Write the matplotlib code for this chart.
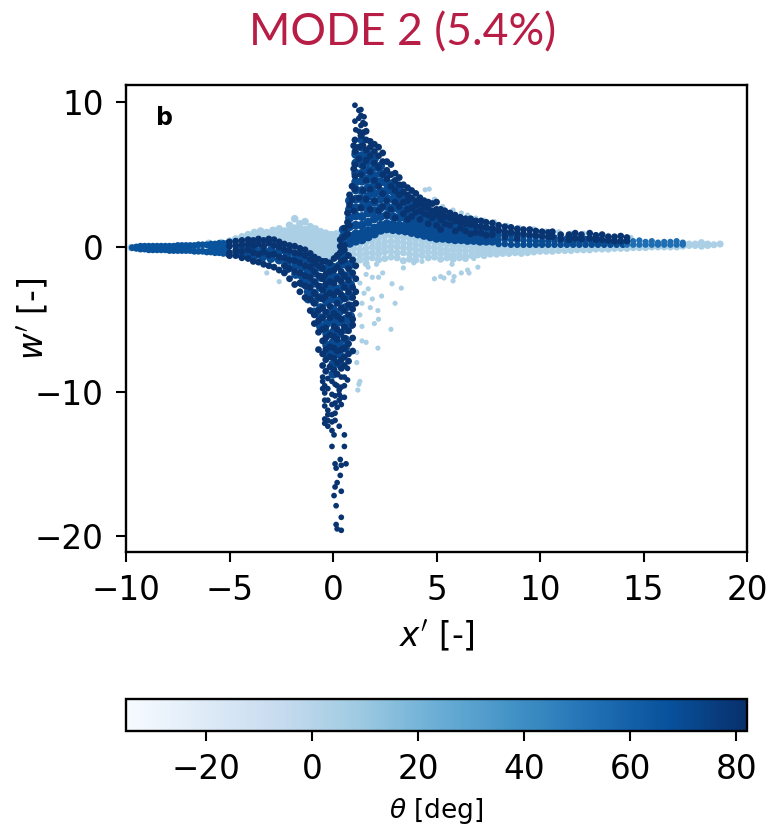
import matplotlib
matplotlib.use("Agg")
import matplotlib.pyplot as plt

# Each column: x' value, then the w' values read at that x'
light_left = [
 (-9.75,[-.05]),(-6.0,[.25]),(-5.4,[.3]),(-5.0,[.4,.25]),(-4.7,[.55,.3]),(-4.4,[.7,.4]),(-4.1,[.85,.5]),(-3.8,[1.0,.6]),
 (-3.5,[1.1,.75]),(-3.2,[1.0,.7]),(-2.9,[1.15,.8]),(-2.6,[1.25,.9,.6]),(-2.35,[1.1,.8,.5]),(-2.1,[1.5,1.1,.75,.4,.1]),
 (-1.85,[1.95,1.3,.95,.6,.25,-.05]),(-1.6,[1.6,1.25,.9,.55,.2,-.15]),(-1.35,[1.75,1.2,.85,.5,.15,-.2,-.5]),
 (-1.1,[1.4,1.05,.7,.35,0,-.35,-.65]),(-.85,[1.25,.9,.55,.2,-.15,-.5,-.85]),(-.6,[1.05,.7,.35,0,-.35,-.7,-1.0]),
 (-.35,[.95,.6,.25,-.1,-.45,-.8]),(-.1,[.85,.5,.15,-.2,-.55,-.85]),(.15,[.9,.45,.1,-.25,-.5]),(.4,[1.0,.5,.15]),
]
light_right = [
 (.7,[-.3,-.6,-1.2]),(1.0,[-.1,-.5,-.9,-1.4]),(1.3,[.2,-.2,-.55,-.9]),(1.6,[.3,-.1,-.45,-.8,-1.15]),(1.9,[.4,0,-.4,-.75]),
 (2.2,[.6,.2,-.15,-.5,-.9]),(2.5,[.75,.35,0,-.35,-.8]),(2.8,[.8,.4,.05,-.3,-.7]),(3.1,[.7,.35,0,-.4,-.75]),
 (3.4,[.65,.3,-.05,-.4,-.95]),(3.7,[.6,.25,-.1,-.5,-.85]),(4.0,[.5,.15,-.2,-.55,-.9]),(4.3,[.45,.1,-.25,-.6]),
 (4.6,[.35,0,-.35,-.75]),(4.9,[.3,-.05,-.4,-.7]),(5.2,[.2,-.15,-.45,-.85]),(5.5,[.15,-.2,-.5,-.75]),(5.8,[.1,-.2,-.55,-.85]),
 (6.1,[.05,-.25,-.55,-.75]),(6.4,[.05,-.25,-.6,-.8]),(6.7,[0,-.3,-.6]),(7.0,[0,-.3,-.55]),(7.3,[0,-.3,-.6]),(7.6,[0,-.25,-.5]),
 (7.9,[0,-.25,-.5]),(8.2,[0,-.25,-.45]),(8.5,[0,-.25,-.45]),(8.8,[0,-.2,-.4]),(9.1,[.0,-.2,-.45]),(9.4,[0,-.2,-.4]),
 (9.7,[.0,-.2,-.35]),(10.0,[0,-.3]),(10.3,[0,-.3]),(10.6,[0,-.3]),(10.9,[.05,-.25]),(11.2,[.05,-.25]),(11.5,[.05,-.25]),
 (11.8,[.05,-.2]),(12.1,[.05,-.2]),(12.4,[.05,-.2]),(12.7,[.05,-.15]),(13.0,[.05,-.15]),(13.3,[.05,-.15]),(13.6,[.05,-.1]),
 (13.9,[.05,-.1]),(14.2,[.1,-.1]),(14.5,[.1,-.05]),(14.8,[.1,-.05]),(15.1,[.1,-.05]),(15.4,[.1,0]),(15.7,[.1,0]),
 (16.0,[.1,0]),(16.3,[.1,0]),(16.6,[.1,.0]),(16.9,[.1,.05]),(17.2,[.1,.2]),(17.5,[.1,.2]),(17.8,[.05,.2,.3]),(18.1,[.2,.1]),(18.4,[.15]),(18.7,[.2]),
]
light_rim_x = [4.45,4.65,4.9,5.3,5.8,6.2,6.5,6.9,7.3,7.8,8.4,9.0,9.7,10.3,10.9,11.5,12.1,12.7,13.3,13.9,14.4]
light_rim_y = [3.95,4.0,3.3,2.8,2.55,2.35,2.2,2.0,1.85,1.75,1.5,1.35,1.25,1.1,1.05,.95,.95,.85,.8,.75,.65]
light_out_x = [1.4,1.8,2.17,.92,1.3,2.2,1.4,2,2.8,1.4,1.6,2.17,1.15,1.15,1.3,1.25,1.2,4.9,5.2,5.36,5.6,5.85,5.8,6.2,6.5,6.57,7,5.75,6.8,3.3,2.85,2.35,3,3.4,3.9,4.3,2.4,2.2,1.9,1.6,2.1,1.7,1.3,1.05,-3.2,-2.6,1.0,.9,1.5,1.7,1.9]
light_out_y = [-3.9,-4.2,-4.4,-4.8,-4.7,-5,-5.5,-5.3,-5.7,-6.5,-6.6,-7,-7.3,-8,-9.3,-9.5,-9.9,-2.2,-2.05,-2.15,-1.8,-2.05,-2.35,-1.8,-1.6,-1.8,-1.4,-1.2,-.8,-2.85,-2.55,-3.4,-3.9,-1.45,-1.1,-1,-1.8,-2.1,-2.1,-1.9,-1.2,-1.4,-2.5,-3.2,-1.8,-2.4,-2.1,-2.8,-3.2,-2.9,-3.6]

tail_left = [
 (-9.7,[-.05]),(-9.5,[0,-.1]),(-9.3,[.05,-.15]),(-9.1,[.05,-.15]),(-8.9,[.05,-.2]),(-8.7,[.05,-.2]),(-8.5,[.05,-.2]),(-8.3,[.05,-.2]),(-8.1,[.05,-.2]),(-7.9,[.05,-.25]),
 (-7.7,[.05,-.25]),(-7.5,[.1,-.25]),(-7.3,[.1,-.25]),(-7.1,[.1,-.25]),(-6.9,[.1,-.25]),(-6.7,[.1,-.3]),(-6.5,[.15,-.3]),(-6.3,[.15,-.3]),(-6.1,[.15,-.35]),
 (-5.9,[.2,-.1,-.35]),(-5.7,[.2,-.1,-.4]),(-5.5,[.25,-.05,-.4]),(-5.3,[.25,-.1,-.45]),(-5.1,[.25,-.1,-.45]),
]
mid_body = [
 (.5,[.2,.7,1.2]),(.8,[.25,.75,1.4,2.0,2.6,3.2]),(1.1,[.4,.9,1.5,2.15,2.7,3.3,3.95,4.5,5.1,5.8,6.4]),
 (1.4,[.5,.95,1.5,2.1,2.75,3.3,3.9,4.55,5.1,5.7,6.3,6.9,7.4]),(1.7,[.7,1.1,1.7,2.35,2.9,3.5,4.1,4.7,5.3,5.9,6.4]),
 (2.0,[.9,1.3,1.95,2.5,3.1,3.7,4.3,4.9,5.5,6.1]),(2.3,[1.15,1.5,2.1,2.7,3.3,3.85,4.5,5.1,5.6]),(2.6,[1.25,1.6,2.2,2.8,3.35,3.9,4.4,5.0]),
 (2.9,[1.2,1.55,2.1,2.7,3.3,3.85,4.4]),(3.2,[1.15,1.5,2.05,2.6,3.1,3.6,4.1]),(3.5,[1.1,1.45,2.0,2.5,3.05,3.5]),(3.8,[1.0,1.35,1.85,2.4,2.9,3.2]),
 (4.1,[.9,1.2,1.7,2.2,2.65,3.0]),(4.4,[.8,1.1,1.6,2.1,2.5,2.8]),(4.7,[.7,1.05,1.5,1.95,2.4]),(5.0,[.6,.95,1.4,1.85,2.25]),(5.3,[.6,.85,1.3,1.75,2.1]),
 (5.6,[.55,.8,1.25,1.65,1.95]),(5.9,[.5,.7,1.15,1.55,1.8]),(6.2,[.5,.7,1.1,1.5,1.7]),(6.5,[.45,.65,1.05,1.4,1.6]),(6.8,[.45,.6,1.0,1.35,1.5]),
 (7.1,[.4,.6,.95,1.3]),(7.4,[.4,.55,.9,1.25]),(7.7,[.4,.55,.9,1.2]),
 (-4.6,[-.1,-.45]),(-4.2,[-.1,-.5]),(-3.8,[-.15,-.6]),(-3.4,[-.2,-.7]),(-3.0,[-.25,-.8]),(-2.6,[-.3,-.9]),(-2.2,[-.5,-1.1,-1.5]),(-1.8,[-.7,-1.3,-1.9]),(-1.5,[-.8,-1.4,-2.0,-2.5]),
 (-1.2,[-1.0,-1.7,-2.4,-3.1,-3.6]),(-.9,[-1.2,-1.8,-2.5,-3.2,-3.8,-4.5]),(-.6,[-1.4,-2.1,-2.8,-3.5,-4.2,-4.9,-5.5]),(-.3,[-1.5,-2.3,-3.0,-3.8,-4.6,-5.3,-6.0,-6.8,-7.4]),
 (0,[-1.4,-2.0,-2.8,-3.6,-4.3,-5.1,-5.9,-6.6,-7.3,-8.1,-8.8]),(.3,[-.6,-1.3,-2.1,-2.9,-3.7,-4.5,-5.2,-6.0,-6.7,-7.4,-8.1]),(.6,[-.6,-1.2,-2.0,-2.7,-3.5,-4.2,-5.0,-5.7,-6.4,-7.0]),
 (.85,[-1.2,-1.9,-2.6,-3.4,-4.1,-4.8,-5.4]),
]
mid_fine = [
 (8.0,[.2,.5,.85,1.1]),(8.3,[.2,.5,.85,1.05]),(8.6,[.15,.5,.8,1.0]),
 (8.9,[.15,.45,.75]),(9.2,[.15,.45,.75]),(9.5,[.15,.45,.7]),(9.8,[.15,.4,.7]),(10.1,[.15,.4,.7]),(10.4,[.15,.4,.65]),(10.7,[.15,.4,.65]),
 (11.0,[.15,.4,.6]),(11.3,[.15,.4,.6]),(11.6,[.15,.35,.6]),(11.9,[.15,.35,.55]),(12.2,[.15,.35,.55]),(12.5,[.15,.35,.5]),
 (12.8,[.15,.35,.5]),(13.1,[.15,.35]),(13.4,[.15,.35]),(13.7,[.15,.3]),(14.0,[.15,.3]),
]
tail_right = [(14.2,[.35,.15]),(14.5,[.4,.15]),(14.8,[.45,.15]),(15.1,[.35,.15]),(15.4,[.4,.15]),(15.7,[.3,.15]),(16.0,[.35,.15]),(16.3,[.35,.15]),(16.6,[.4,.15]),(16.9,[.3,.15])]

dark_body = [
 (1.06,[7.4,6.6,5.7,4.9,4.0]),(1.25,[6.9,6.1,3.4]),(1.35,[7.7,5.0,2.7]),(1.45,[7.9,7.0,5.6,3.9]),
 (1.6,[8.0,7.4,6.7,6.0,4.6,3.3]),(1.8,[7.3,6.9,6.3,5.2,4.0,2.6]),(2.0,[7.1,6.6,5.8,4.6,3.2]),(2.2,[6.9,6.3,5.5,4.2,2.5]),
 (2.4,[6.5,5.9,5.0,3.7,2.8]),(2.6,[5.9,5.3,4.7,3.2,2.2]),(2.8,[5.7,5.0,4.2,2.6]),(3.0,[5.1,4.6,3.9,3.1,2.0]),(3.2,[4.8,4.3,3.6,2.8]),
 (3.4,[4.3,3.8,3.1,2.3]),(3.6,[4.1,3.6,3.2,2.6,1.9]),(3.8,[3.9,3.4,2.7,2.1]),(4.0,[3.7,3.2,2.9,2.4]),(4.2,[3.4,3.0,2.5,1.9]),
 (4.4,[3.2,2.8,2.3]),(4.6,[3.1,2.7,2.2,1.6]),(4.8,[3.0,2.5,2.0]),(5.0,[3.1,2.6,2.2,1.5]),(5.2,[2.6,2.3,1.9,1.2]),(5.4,[2.5,2.1,1.6]),
 (5.65,[2.35,2.0,1.5]),(5.9,[2.2,1.8,1.1]),(6.15,[2.05,1.7,1.3]),(6.4,[1.95,1.6,1.1]),(6.65,[1.95,1.55,.9]),(6.9,[1.8,1.45,1.0]),
 (7.15,[1.8,1.4,.95]),(7.4,[1.7,1.35,.8]),(7.7,[1.65,1.25,.85]),(8.0,[1.5,1.15]),(8.3,[1.4,1.05,.7]),(8.6,[1.35,1.0]),(8.9,[1.25,.95,.6]),
 (9.2,[1.2,.9]),(9.5,[1.2,.85]),(9.8,[1.1,.8]),(10.1,[1.05,.75]),(10.4,[1.0,.7]),(10.6,[1.05,.7]),(11.0,[.85,.55]),(11.4,[.85,.5]),
 (11.7,[.95,.6]),(12.0,[.85,.55]),(12.4,[.95,.6]),(12.7,[.8,.5]),(13.0,[.85,.5]),(13.3,[.7,.45]),(13.6,[.7,.4]),(13.9,[.75,.4]),(14.2,[.65,.4]),
 (.35,[.5,.05,-.4]),(.55,[1.3,.7,.1]),(.7,[2.35,1.7,.9]),(.8,[3.6,2.9,1.5]),(.92,[4.2,3.3]),(1.0,[7.0,5.4,2.5]),
 (-5.0,[.35,.05,-.4,-.6]),(-4.7,[.4,.1,-.25,-.6]),(-4.4,[.45,.15,-.3,-.75]),(-4.1,[.5,.2,-.2,-.8]),(-3.85,[.45,.1,-.4,-1.0]),
 (-3.6,[.55,.2,-.5,-1.05]),(-3.35,[.45,.05,-.35,-1.2]),(-3.1,[.55,.25,-.55,-1.3]),(-2.85,[.5,.1,-.5,-1.4]),(-2.6,[.35,0,-.7,-1.6]),
 (-2.35,[.2,-.2,-.75,-1.3,-1.8]),(-2.1,[.1,-.25,-.9,-1.5,-2.2]),(-1.85,[.05,-.4,-.95,-1.7,-2.6]),(-1.6,[-.1,-.45,-1.1,-1.8,-2.5,-3.1]),
 (-1.35,[-.2,-.6,-1.3,-2.0,-2.7,-3.5]),(-1.1,[-.45,-.85,-1.4,-2.1,-2.8,-3.6,-4.4]),(-.9,[-.7,-1.1,-1.7,-2.4,-3.2,-3.9,-4.7,-5.3]),
 (-.7,[-.85,-1.3,-2.0,-2.7,-3.5,-4.4,-5.1,-5.9,-7.1]),(-.5,[-1.0,-1.5,-2.2,-3.0,-3.6,-4.2,-4.9,-5.7,-6.5,-7.4,-8.2]),
 (-.35,[-1.0,-1.9,-2.6,-3.4,-4.5,-5.6,-6.3,-7.1,-7.8,-8.6]),
 (-.15,[-1.1,-1.7,-2.4,-3.2,-4.1,-4.9,-6.1,-6.9,-7.6,-8.3]),
 (.05,[-.8,-1.6,-2.5,-3.3,-4.6,-5.5,-6.2,-7.0,-7.7,-8.5]),
 (.2,[-.6,-1.4,-2.2,-3.1,-3.9,-4.8,-5.7,-6.4,-7.2,-8.0,-8.8]),
 (.4,[-.3,-1.0,-1.7,-2.4,-3.3,-4.2,-5.0,-5.9,-7.1,-7.8,-8.4]),
 (.55,[-.2,-.9,-2.0,-2.8,-3.6,-4.4,-5.5,-6.3,-7.0,-7.6,-8.2]),
 (.75,[-.6,-1.5,-2.3,-3.1,-4.0,-4.7,-5.8,-6.7,-7.4,-7.9]),(.95,[-.9,-1.8,-2.8,-3.5,-4.3,-5.0,-5.4,-6.3,-7.2]),
 (1.1,[-1.3,-2.2,-3.1,-3.9]),
]
dark_sparse = [
 (1.06,[9.8,8.7]),(1.25,[9.45,8.0,8.9]),(1.35,[9.1,9.5,8.4]),(1.45,[8.6]),(1.5,[9.0]),(1.1,[8.1]),(1.55,[8.5]),
 (-.5,[-9.0,-9.8,-9.3]),(-.4,[-10.1,-11.0,-11.9,-12.2,-9.6,-10.6]),(-.25,[-9.1,-9.8,-10.6,-11.3,-12.0,-12.4,-11.6]),
 (-.05,[-9.3,-10.2,-10.9,-11.6,-12.7,-13.8,-12.1]),(.1,[-9.5,-10.3,-10.8,-11.5,-12.0,-15.0,-16.6]),(.05,[-17.2,-13.0]),(.2,[-16.3,-19.5,-9.6,-11.1]),
 (.15,[-17.9,-19.2,-15.3]),(.3,[-9.9,-10.6,-10.2,-12.4]),(.4,[-9.0,-9.7,-10.4,-10.9,-15.1,-16.9,-18.7,-19.6]),(.55,[-9.0,-9.6,-10.4,-13.0,-13.8]),
 (.7,[-8.4,-9.2]),(.35,[-14.7,-15.8]),(.63,[-15]),
]

theta_light = 4
theta_tail_left = 66
theta_mid = 70
theta_tail_right = 54
theta_dark = 80


def expand(columns):
    xs, ys = [], []
    for x, values in columns:
        xs += [x] * len(values)
        ys += values
    return xs, ys


plt.rcParams["font.family"] = "DejaVu Sans"
W, H = 769, 827
fig = plt.figure(figsize=(W / 100, H / 100), dpi=100)
ax = fig.add_axes([126 / W, 1 - 552 / H, 621 / W, 467 / H])

layers = [
    (light_left, theta_light, 30), (light_right, theta_light, 26),
    (list(zip(light_rim_x, [[v] for v in light_rim_y])), theta_light, 14),
    (list(zip(light_out_x, [[v] for v in light_out_y])), theta_light, 14),
    (tail_left, theta_tail_left, 24), (mid_body, theta_mid, 42), (mid_fine, theta_mid, 22),
    (tail_right, theta_tail_right, 20), (dark_body, theta_dark, 24), (dark_sparse, theta_dark, 17),
]
sc = None
for columns, theta, size in layers:
    xs, ys = expand(columns)
    sc = ax.scatter(xs, ys, c=[theta] * len(xs), s=size, cmap="Blues", vmin=-35, vmax=82, linewidths=0)

ax.set_xlim(-10, 20)
ax.set_ylim(-21.1, 11.2)
ax.set_xticks([-10, -5, 0, 5, 10, 15, 20])
ax.set_yticks([-20, -10, 0, 10])
ax.tick_params(labelsize=23.5, width=1.5, length=7.5, pad=8.5)
for s in ax.spines.values():
    s.set_linewidth(1.7)
ax.set_xlabel(r"$x'$ [-]", fontsize=23.5, labelpad=8)
ax.set_ylabel(r"$w'$ [-]", fontsize=23.5)
ax.yaxis.set_label_coords((50 - 126) / 621, 0.5)
ax.text(0.062, 0.929, "b", transform=ax.transAxes, fontsize=17, fontweight="bold", va="center", ha="center")

cax = fig.add_axes([126 / W, 1 - 731 / H, 621 / W, 32 / H])
cb = fig.colorbar(sc, cax=cax, orientation="horizontal")
cb.set_ticks([-20, 0, 20, 40, 60, 80])
cb.ax.tick_params(labelsize=23.5, width=1.5, length=7.5, pad=8.5)
cb.outline.set_linewidth(1.7)
cb.set_label(r"$\theta$ [deg]", fontsize=19, labelpad=7)

fig.text(403 / W, 1 - 33 / H, "MODE 2 (5.4%)", color="#b81d45", fontsize=32, family="Lato", ha="center", va="center")
fig.savefig("out.png", dpi=100)
